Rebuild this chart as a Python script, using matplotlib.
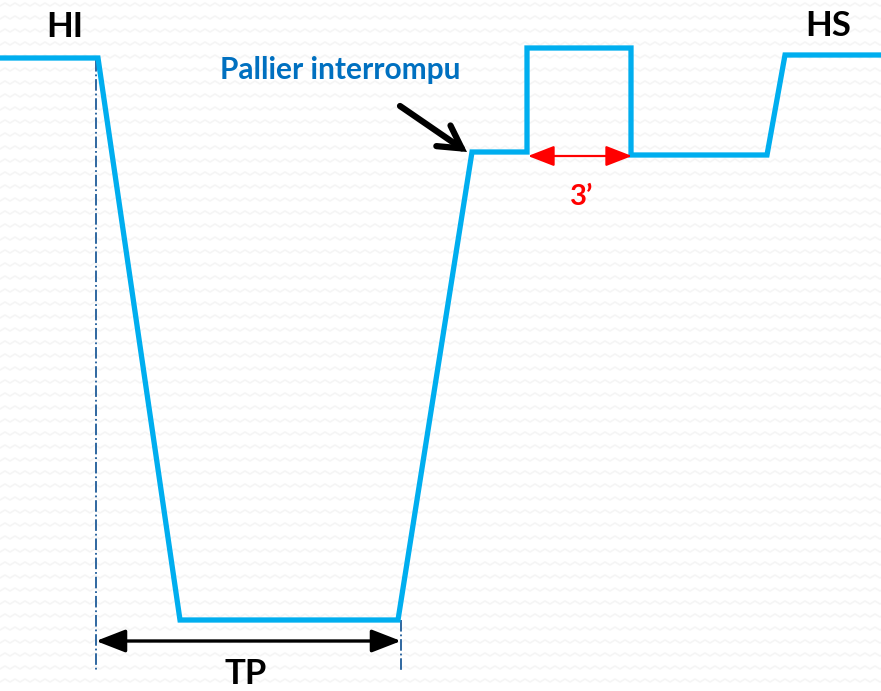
import numpy as np
import matplotlib.pyplot as plt

# dive profile (schematic units: x = time, y = depth, 0 at top)
profile_time = [0, 98, 180, 398, 472, 527, 527, 631, 631, 767, 785, 881]
profile_depth = [58, 58, 620, 620, 152, 152, 48, 48, 155, 155, 55, 55]

# markers for TP (start of descent / start of ascent)
tp_start = 96
tp_end = 401
tp_level = 641
palier_start = 528
palier_end = 632
palier_level = 156

labels = ["HI", "HS", "TP", "3\u2019", "Pallier interrompu"]

plt.rcParams['font.family'] = ['Lato', 'DejaVu Sans']

fig = plt.figure(figsize=(8.81, 6.91), dpi=100)
ax = fig.add_axes([0, 0, 1, 1])
ax.set_xlim(0, 881)
ax.set_ylim(691, 0)
ax.axis("off")

# faint zigzag background texture
zx = np.arange(0, 890, 5)
zy = np.where((zx // 5) % 2 == 0, 0, -3)
for row in np.arange(6, 700, 13):
    ax.plot(zx, zy + row, color="#f5f5f5", lw=1.2, zorder=0)

line_blue = "#00AEEF"
dash_blue = "#1F5C99"

# vertical dash-dot guides
ax.plot([tp_start, tp_start], [60, 672], color=dash_blue, lw=1.3, ls="-.")
ax.plot([tp_end, tp_end], [profile_depth[3], 672], color=dash_blue, lw=1.3, ls="-.")

# profile
ax.plot(profile_time, profile_depth, color=line_blue, lw=3.8, solid_joinstyle="miter")

# TP arrow
ax.annotate("", xy=(tp_start, tp_level), xytext=(tp_end, tp_level),
            arrowprops=dict(arrowstyle="<|-|>,head_length=0.9,head_width=0.35",
                            color="black", lw=2.4,
                            mutation_scale=20, shrinkA=0, shrinkB=0))
ax.text((tp_start + tp_end) / 2 - 3, 690, labels[2], fontsize=25, fontweight="bold",
        ha="center", va="bottom")

# 3' arrow
ax.annotate("", xy=(palier_start, palier_level), xytext=(palier_end, palier_level),
            arrowprops=dict(arrowstyle="<|-|>,head_length=0.9,head_width=0.35",
                            color="red", lw=1.6,
                            mutation_scale=18, shrinkA=0, shrinkB=0))
ax.text(582, 197, labels[3], fontsize=21, fontweight="bold", color="red",
        ha="center", va="center")

# labels HI / HS
ax.text(65, 27, labels[0], fontsize=25, fontweight="bold", ha="center", va="center")
ax.text(828, 26, labels[1], fontsize=25, fontweight="bold", ha="center", va="center")

# palier interrompu
ax.text(340, 70, labels[4], fontsize=21.5, fontweight="bold", color="#0070C0",
        ha="center", va="center")
ax.annotate("", xy=(467, 152), xytext=(400, 106),
            arrowprops=dict(arrowstyle="->,head_length=0.8,head_width=0.45",
                            color="black", lw=4.5, joinstyle="miter",
                            mutation_scale=20, shrinkA=0, shrinkB=0))

fig.savefig("out.png", dpi=100, facecolor="white")
